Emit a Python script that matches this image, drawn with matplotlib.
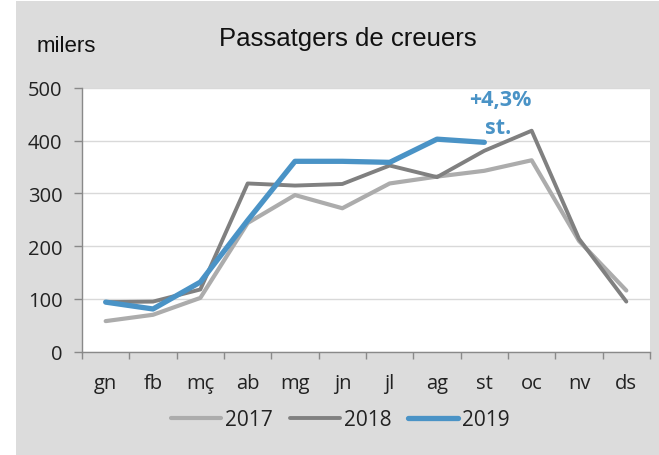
import matplotlib
matplotlib.use("Agg")
import matplotlib.pyplot as plt
from matplotlib.patches import Rectangle

months = ["gn", "fb", "mç", "ab", "mg", "jn", "jl", "ag", "st", "oc", "nv", "ds"]
v2017 = [58, 70, 102, 244, 297, 272, 319, 332, 343, 363, 210, 116]
v2018 = [94, 95, 118, 319, 315, 318, 353, 331, 381, 419, 214, 95]
v2019 = [94, 81, 132, 249, 361, 361, 359, 403, 397]
yticks = [0, 100, 200, 300, 400, 500]

W, H = 659, 456
fig = plt.figure(figsize=(W / 100, H / 100), dpi=100)
fig.patch.set_facecolor("white")
fig.patches.append(Rectangle((16 / W, 0), 1 - 16 / W, (H - 2) / H,
                             transform=fig.transFigure, facecolor="#dcdcdc",
                             edgecolor="none", zorder=-10))

ax = fig.add_axes([82 / W, 1 - 352.7 / H, (650 - 82) / W, (352.7 - 89) / H])
ax.set_facecolor("white")

x = list(range(len(months)))
ax.plot(x, v2017, color="#acacac", lw=3.0, label="2017", solid_capstyle="round", zorder=3)
ax.plot(x, v2018, color="#808080", lw=2.8, label="2018", solid_capstyle="round", zorder=4)
ax.plot(x[:len(v2019)], v2019, color="#4a93c6", lw=3.8, label="2019", solid_capstyle="round", zorder=5)

ax.set_xlim(-0.5, len(months) - 0.5)
ax.set_ylim(0, 500)
ax.set_yticks(yticks)
ax.set_yticklabels([str(v) for v in yticks])
ax.set_xticks(x)
ax.set_xticklabels(months)
ax.set_xticks([i - 0.5 for i in range(len(months) + 1)], minor=True)
ax.tick_params(axis="x", which="major", length=0, pad=15)
ax.tick_params(axis="x", which="minor", length=5, width=1, color="#898989", direction="out")
ax.tick_params(axis="y", length=6, width=1, color="#898989", pad=8)

for lab in ax.get_xticklabels() + ax.get_yticklabels():
    lab.set_fontfamily("Open Sans")
    lab.set_fontsize(14.5)
    lab.set_color("#222222")

ax.grid(axis="y", color="#d9d9d9", lw=1, zorder=0)
ax.set_axisbelow(True)
for s in ["top", "right"]:
    ax.spines[s].set_visible(False)
for s in ["left", "bottom"]:
    ax.spines[s].set_color("#898989")
    ax.spines[s].set_linewidth(1)

fig.text(348 / W, 1 - 46 / H, "Passatgers de creuers", ha="center", va="baseline",
         fontfamily="Liberation Sans", fontsize=18.5, color="#111111")
fig.text(37 / W, 1 - 52 / H, "milers", ha="left", va="baseline",
         fontfamily="Liberation Sans", fontsize=16, color="#111111")

ax.text(8.33, 478, "+4,3%", ha="center", va="center", fontfamily="Open Sans",
        fontweight="bold", fontsize=15.5, color="#4a93c6")
ax.text(8.3, 425, "st.", ha="center", va="center", fontfamily="Open Sans",
        fontweight="bold", fontsize=15.5, color="#4a93c6")

leg = fig.legend(loc="center", bbox_to_anchor=(340.5 / W, 1 - 421 / H), ncol=3,
                 frameon=False, handlelength=2.4, handletextpad=0.2, columnspacing=0.8,
                 prop={"family": "Open Sans", "size": 15})
for t in leg.get_texts():
    t.set_color("#222222")

fig.savefig("out.png", dpi=100, facecolor=fig.get_facecolor())
